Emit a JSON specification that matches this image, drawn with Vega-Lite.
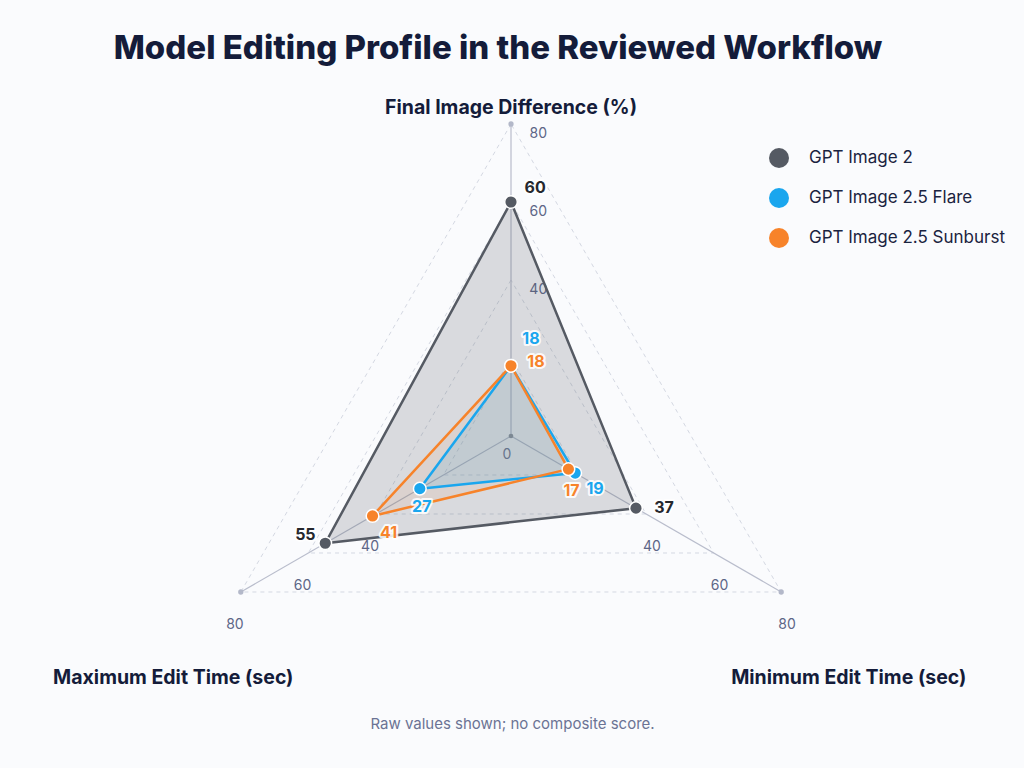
{
  "$schema": "https://vega.github.io/schema/vega-lite/v6.json",
  "width": 1024,
  "height": 618,
  "autosize": {"type": "none"},
  "padding": {"top": 90, "bottom": 60, "left": 0, "right": 0},
  "background": "#fafbfd",
  "config": {"view": {"stroke": null}, "font": "Inter"},
  "title": {
    "text": "Model Editing Profile in the Reviewed Workflow",
    "fontSize": 33,
    "fontWeight": 800,
    "color": "#141c3a",
    "anchor": "middle",
    "offset": 24,
    "dx": -14,
    "font": "Inter"
  },
  "datasets": {
    "scores": [
      {"model": "GPT Image 2", "axis": "Final Image Difference (%)", "value": 60},
      {"model": "GPT Image 2", "axis": "Maximum Edit Time (sec)", "value": 55},
      {"model": "GPT Image 2", "axis": "Minimum Edit Time (sec)", "value": 37},
      {"model": "GPT Image 2.5 Flare", "axis": "Final Image Difference (%)", "value": 18},
      {"model": "GPT Image 2.5 Flare", "axis": "Maximum Edit Time (sec)", "value": 27},
      {"model": "GPT Image 2.5 Flare", "axis": "Minimum Edit Time (sec)", "value": 19},
      {"model": "GPT Image 2.5 Sunburst", "axis": "Final Image Difference (%)", "value": 18},
      {"model": "GPT Image 2.5 Sunburst", "axis": "Maximum Edit Time (sec)", "value": 41},
      {"model": "GPT Image 2.5 Sunburst", "axis": "Minimum Edit Time (sec)", "value": 17}
    ],
    "axes": [
      {"axis": "Final Image Difference (%)", "ord": 0, "ticks": [20, 40, 60, 80], "labels": [40, 60, 80]},
      {"axis": "Maximum Edit Time (sec)", "ord": 1, "ticks": [20, 40, 60, 80], "labels": [40, 60, 80]},
      {"axis": "Minimum Edit Time (sec)", "ord": 2, "ticks": [20, 40, 60, 80], "labels": [40, 60, 80]}
    ]
  },
  "encoding": {
    "x": {
      "field": "x",
      "type": "quantitative",
      "scale": {"domain": [-131.026, 131.538], "nice": false, "zero": false},
      "axis": {
        "domain": false,
        "ticks": false,
        "labels": false,
        "grid": false,
        "title": "Raw values shown; no composite score.",
        "titleFont": "Inter",
        "titleFontSize": 15,
        "titleFontWeight": "normal",
        "titleColor": "#6b7394",
        "titlePadding": 8
      }
    },
    "y": {
      "field": "y",
      "type": "quantitative",
      "scale": {"domain": [-69.744, 88.718], "nice": false, "zero": false},
      "axis": null
    }
  },
  "layer": [
    {
      "data": {"name": "axes"},
      "transform": [
        {"flatten": ["ticks"]},
        {"calculate": "PI * (90 + 120 * datum.ord) / 180", "as": "a"},
        {"calculate": "datum.ticks * cos(datum.a)", "as": "x"},
        {"calculate": "datum.ticks * sin(datum.a)", "as": "y"}
      ],
      "mark": {"type": "line", "interpolate": "linear-closed", "stroke": "#d4d8e2", "strokeWidth": 1, "strokeDash": [4, 4]},
      "encoding": {
        "detail": {"field": "ticks", "type": "nominal"},
        "order": {"field": "ord", "type": "quantitative"}
      }
    },
    {
      "data": {"name": "axes"},
      "transform": [
        {"calculate": "PI * (90 + 120 * datum.ord) / 180", "as": "a"},
        {"calculate": "0", "as": "x"},
        {"calculate": "0", "as": "y"},
        {"calculate": "80 * cos(datum.a)", "as": "x2"},
        {"calculate": "80 * sin(datum.a)", "as": "y2"}
      ],
      "mark": {"type": "rule", "stroke": "#b9bdcc", "strokeWidth": 1.2},
      "encoding": {
        "x2": {"field": "x2"},
        "y2": {"field": "y2"}
      }
    },
    {
      "data": {"name": "axes"},
      "transform": [
        {"calculate": "PI * (90 + 120 * datum.ord) / 180", "as": "a"},
        {"calculate": "80 * cos(datum.a)", "as": "x"},
        {"calculate": "80 * sin(datum.a)", "as": "y"}
      ],
      "mark": {"type": "point", "filled": true, "size": 28, "color": "#b3b8c9", "opacity": 1}
    },
    {
      "data": {"name": "axes"},
      "transform": [
        {"flatten": ["labels"]},
        {"calculate": "PI * (90 + 120 * datum.ord) / 180", "as": "a"},
        {"calculate": "datum.labels * cos(datum.a) + (datum.ord == 0 ? 7 : datum.ord == 1 ? -1.5 : 1.5)", "as": "x"},
        {"calculate": "datum.labels * sin(datum.a) + (datum.ord == 0 ? -2.5 : -8.5)", "as": "y"}
      ],
      "mark": {"type": "text", "fontSize": 14, "color": "#5d6687", "font": "Inter"},
      "encoding": {"text": {"field": "labels", "type": "quantitative"}}
    },
    {
      "data": {"name": "axes"},
      "transform": [
        {"filter": "datum.ord == 0"},
        {"calculate": "0", "as": "x"},
        {"calculate": "0", "as": "y"}
      ],
      "mark": {"type": "point", "filled": true, "size": 22, "color": "#8c909c", "opacity": 1}
    },
    {
      "data": {"name": "axes"},
      "transform": [
        {"filter": "datum.ord == 0"},
        {"calculate": "0", "as": "x"},
        {"calculate": "0", "as": "y"},
        {"calculate": "'0'", "as": "zero"}
      ],
      "mark": {"type": "text", "fontSize": 14, "color": "#6b7290", "dx": -4, "dy": 19, "font": "Inter"},
      "encoding": {"text": {"field": "zero"}}
    },
    {
      "data": {"name": "scores"},
      "transform": [
        {"lookup": "axis", "from": {"data": {"name": "axes"}, "key": "axis", "fields": ["ord"]}},
        {"calculate": "PI * (90 + 120 * datum.ord) / 180", "as": "a"},
        {"calculate": "datum.value * cos(datum.a)", "as": "x"},
        {"calculate": "datum.value * sin(datum.a)", "as": "y"}
      ],
      "mark": {"type": "line", "interpolate": "linear-closed", "filled": true, "strokeWidth": 0},
      "encoding": {
        "detail": {"field": "model", "type": "nominal"},
        "order": {"field": "ord", "type": "quantitative"},
        "color": {
          "field": "model",
          "type": "nominal",
          "scale": {"domain": ["GPT Image 2", "GPT Image 2.5 Flare", "GPT Image 2.5 Sunburst"], "range": ["#555a63", "#1aa6ee", "#f7832a"]}
        },
        "fillOpacity": {
          "field": "model",
          "type": "nominal",
          "scale": {"domain": ["GPT Image 2", "GPT Image 2.5 Flare", "GPT Image 2.5 Sunburst"], "range": [0.2, 0.08, 0.18]},
          "legend": null
        }
      }
    },
    {
      "data": {"name": "scores"},
      "transform": [
        {"lookup": "axis", "from": {"data": {"name": "axes"}, "key": "axis", "fields": ["ord"]}},
        {"calculate": "PI * (90 + 120 * datum.ord) / 180", "as": "a"},
        {"calculate": "datum.value * cos(datum.a)", "as": "x"},
        {"calculate": "datum.value * sin(datum.a)", "as": "y"}
      ],
      "mark": {"type": "line", "interpolate": "linear-closed", "strokeWidth": 2.5, "strokeJoin": "round"},
      "encoding": {
        "detail": {"field": "model", "type": "nominal"},
        "order": {"field": "ord", "type": "quantitative"},
        "color": {"field": "model", "type": "nominal"}
      }
    },
    {
      "data": {"name": "scores"},
      "transform": [
        {"lookup": "axis", "from": {"data": {"name": "axes"}, "key": "axis", "fields": ["ord"]}},
        {"calculate": "PI * (90 + 120 * datum.ord) / 180", "as": "a"},
        {"calculate": "datum.value * cos(datum.a)", "as": "x"},
        {"calculate": "datum.value * sin(datum.a)", "as": "y"}
      ],
      "mark": {"type": "point", "filled": true, "size": 160, "stroke": "white", "strokeWidth": 1.5, "opacity": 1},
      "encoding": {
        "color": {
          "field": "model",
          "type": "nominal",
          "legend": {
            "orient": "none",
            "legendX": 769,
            "legendY": 58,
            "title": null,
            "symbolType": "circle",
            "symbolSize": 400,
            "symbolStrokeWidth": 0,
            "symbolOpacity": 1,
            "labelFontSize": 17,
            "labelFont": "Inter",
            "labelColor": "#1a2340",
            "labelOffset": 20,
            "labelLimit": 400,
            "rowPadding": 20
          }
        }
      }
    },
    {
      "data": {"name": "scores"},
      "transform": [
        {"lookup": "axis", "from": {"data": {"name": "axes"}, "key": "axis", "fields": ["ord"]}},
        {"calculate": "PI * (90 + 120 * datum.ord) / 180", "as": "a"},
        {"calculate": "datum.model == 'GPT Image 2' ? [6.2, -5.1, 7.2][datum.ord] : datum.model == 'GPT Image 2.5 Flare' ? [5.1, 0.5, 5.1][datum.ord] : [6.4, 4.1, 0.8][datum.ord]", "as": "ox"},
        {"calculate": "datum.model == 'GPT Image 2' ? [3.6, 2.1, 0][datum.ord] : datum.model == 'GPT Image 2.5 Flare' ? [6.9, -4.6, -4.1][datum.ord] : [1.0, -4.4, -5.6][datum.ord]", "as": "oy"},
        {"calculate": "datum.value * cos(datum.a) + datum.ox", "as": "x"},
        {"calculate": "datum.value * sin(datum.a) + datum.oy", "as": "y"}
      ],
      "mark": {"type": "text", "fontSize": 16, "fontWeight": "bold", "font": "Inter", "fill": "white", "stroke": "white", "strokeWidth": 4, "strokeJoin": "round", "strokeOpacity": 0.85},
      "encoding": {"text": {"field": "value", "type": "quantitative"}}
    },
    {
      "data": {"name": "scores"},
      "transform": [
        {"lookup": "axis", "from": {"data": {"name": "axes"}, "key": "axis", "fields": ["ord"]}},
        {"calculate": "PI * (90 + 120 * datum.ord) / 180", "as": "a"},
        {"calculate": "datum.model == 'GPT Image 2' ? [6.2, -5.1, 7.2][datum.ord] : datum.model == 'GPT Image 2.5 Flare' ? [5.1, 0.5, 5.1][datum.ord] : [6.4, 4.1, 0.8][datum.ord]", "as": "ox"},
        {"calculate": "datum.model == 'GPT Image 2' ? [3.6, 2.1, 0][datum.ord] : datum.model == 'GPT Image 2.5 Flare' ? [6.9, -4.6, -4.1][datum.ord] : [1.0, -4.4, -5.6][datum.ord]", "as": "oy"},
        {"calculate": "datum.value * cos(datum.a) + datum.ox", "as": "x"},
        {"calculate": "datum.value * sin(datum.a) + datum.oy", "as": "y"}
      ],
      "mark": {"type": "text", "fontSize": 16, "fontWeight": "bold", "font": "Inter"},
      "encoding": {
        "text": {"field": "value", "type": "quantitative"},
        "color": {
          "condition": {"test": "datum.model == 'GPT Image 2'", "value": "#25282e"},
          "field": "model",
          "type": "nominal"
        }
      }
    },
    {
      "data": {"name": "axes"},
      "transform": [
        {"calculate": "PI * (90 + 120 * datum.ord) / 180", "as": "a"},
        {"calculate": "datum.ord == 0 ? 84 : 100", "as": "lr"},
        {"calculate": "datum.lr * cos(datum.a)", "as": "x"},
        {"calculate": "datum.lr * sin(datum.a) - (datum.ord == 0 ? 0 : 12)", "as": "y"}
      ],
      "mark": {"type": "text", "fontSize": 19.5, "fontWeight": "bold", "font": "Inter", "color": "#141c3a"},
      "encoding": {"text": {"field": "axis"}}
    }
  ]
}
